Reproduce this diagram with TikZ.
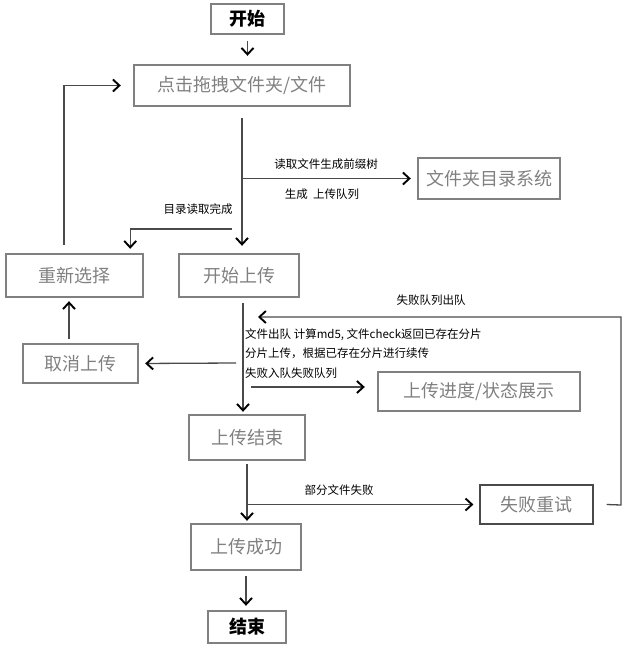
\documentclass[tikz,border=0pt]{standalone}
\usepackage{fontspec}
\setmainfont{Noto Sans CJK SC}
\usetikzlibrary{arrows.meta,calc}

\definecolor{boxgray}{HTML}{808080}
\definecolor{linegray}{HTML}{4A4A4A}

\tikzset{
    box/.style={draw=boxgray, line width=2.4pt, text=boxgray, inner sep=0pt,
        font=\fontsize{18}{20}\selectfont},
    endbox/.style={box, text=black, font=\fontsize{18}{20}\selectfont\bfseries},
    thinbox/.style={box, draw=linegray, line width=1.2pt},
    lbl/.style={font=\fontsize{11.5}{13}\selectfont, inner sep=0pt},
    flow/.style={draw=linegray, line width=1.3pt,
        -{Straight Barb[length=6.5pt,width=12pt,line width=1.9pt,black]}},
    plain/.style={draw=linegray, line width=1.3pt}
}

\begin{document}
\begin{tikzpicture}[x=1pt, y=-1pt]

    % Page size of the reference
    \useasboundingbox (0,0) rectangle (624,648);

    % Boxes
    \node[endbox, minimum width=73, minimum height=30] (start) at (247.5,19) {开始};
    \node[box, minimum width=216, minimum height=41] (drag) at (242,85.5) {点击拖拽文件夹/文件};
    \node[box, minimum width=142, minimum height=41] (dirsys) at (489,178.5) {文件夹目录系统};
    \node[box, minimum width=137, minimum height=43] (reselect) at (74.5,275.5) {重新选择};
    \node[box, minimum width=120, minimum height=43] (startup) at (239,275.5) {开始上传};
    \node[box, minimum width=115, minimum height=39] (cancel) at (80.5,363.5) {取消上传};
    \node[box, minimum width=202, minimum height=39] (progress) at (479,391.5) {上传进度/状态展示};
    \node[box, minimum width=116, minimum height=45] (upend) at (247,437.5) {上传结束};
    \node[thinbox, minimum width=113, minimum height=39] (retry) at (536.5,504.5) {失败重试};
    \node[box, minimum width=110, minimum height=46] (success) at (246,547) {上传成功};
    \node[endbox, minimum width=78, minimum height=32] (finish) at (247,627) {结束};

    % Branch points
    \coordinate (loopstart) at (64,245);
    \coordinate (backstart) at (232,229);
    \coordinate (trunk) at (243,303);
    \coordinate (cancelstart) at (236,363);
    \coordinate (progstart) at (251,387);
    \coordinate (retrycorner) at (621,505);
    \coordinate (retryin) at (258,317);

    % Start to selection
    \draw[flow, shorten <=6pt, shorten >=8pt] (start.south) -- (start.south |- drag.north);

    % Reading the folder
    \draw[flow, shorten <=11pt, shorten >=7pt] (drag.south) -- (drag.south |- startup.north);
    \draw[flow, shorten >=6pt] (drag.south |- dirsys.west) -- (dirsys.west);
    \node[lbl] (readlbl) at (326,164) {读取文件生成前缀树};
    \node[lbl] (queuelbl) at (322,194) {生成\ \ 上传队列};
    \node[lbl] (donelbl) at (198,209) {目录读取完成};
    \draw[flow, shorten >=4pt] (backstart) -| ([xshift=-14pt]reselect.north east);

    % Choose again
    \draw[flow, shorten >=12pt] (loopstart) |- (drag.west);
    \draw[flow, shorten <=4pt, shorten >=3pt] ([xshift=-11.5pt]cancel.north) -- ([xshift=-11.5pt]cancel.north |- reselect.south);

    % Uploading
    \draw[flow, shorten >=2pt] (trunk) -- (trunk |- upend.north);
    \draw[flow, shorten >=6pt] (cancelstart) -- (cancel.east);
    \draw[flow, shorten >=12pt] (progstart) -- (progstart -| progress.west);
    \node[lbl, anchor=west] (md5lbl) at (245,335) {文件出队~计算md5, 文件check返回已存在分片};
    \node[lbl, anchor=west] (chunklbl) at (245,353) {分片上传，根据已存在分片进行续传};
    \node[lbl, anchor=west] (faillbl) at (245,373) {失败入队失败队列};

    % Retry loop
    \draw[flow] ([xshift=13pt]retry.east) -- (retrycorner) |- (retryin);
    \node[lbl] (outlbl) at (431,300) {失败队列出队};

    % Finishing
    \draw[flow, shorten <=3pt, shorten >=2pt] (upend.south) -- (upend.south |- success.north);
    \draw[flow, shorten >=6pt] (upend.south |- retry.west) -- (retry.west);
    \node[lbl] (partlbl) at (339,490) {部分文件失败};
    \draw[flow, shorten <=5pt, shorten >=4pt] (success.south) -- (success.south |- finish.north);

\end{tikzpicture}
\end{document}
